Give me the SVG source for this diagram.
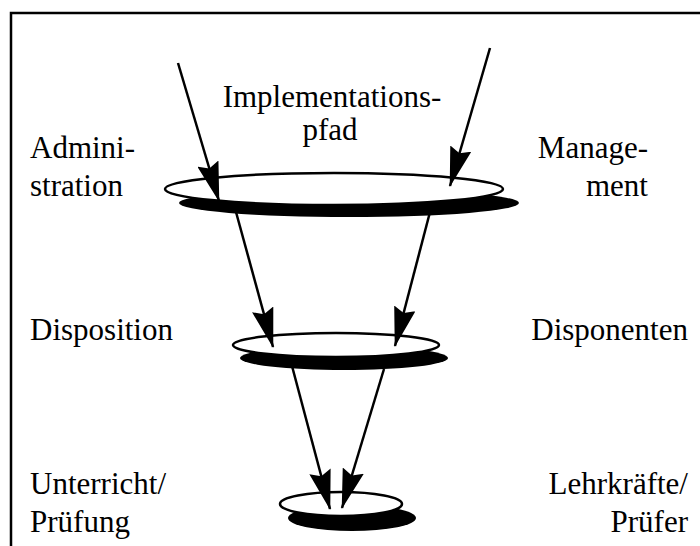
<svg xmlns="http://www.w3.org/2000/svg" width="700" height="546" viewBox="0 0 700 546">
<defs>
<style>
.lbl{font-family:"Liberation Serif","Times New Roman",serif;font-size:31px;fill:#000}
.ring{fill:#fff;stroke:#000;stroke-width:2.5}
.shadow{fill:#000}
.conn{stroke:#000;stroke-width:2.5;fill:none}
</style>
<marker id="ah" viewBox="0 0 40 22" markerWidth="40" markerHeight="22" refX="39" refY="11" orient="auto" markerUnits="userSpaceOnUse">
<path d="M0,0 L40,11 L0,22 L5,11 Z" fill="#000"/>
</marker>
</defs>
<rect width="700" height="546" fill="#fff"/>
<path d="M11,546 L11,13 L700,13" fill="none" stroke="#000" stroke-width="2.5"/>

<g id="level1">
<ellipse class="shadow" cx="349" cy="203" rx="170" ry="14"/>
<ellipse class="ring" cx="334" cy="189" rx="169" ry="16"/>
</g>
<g id="level2">
<ellipse class="shadow" cx="344" cy="358" rx="104" ry="12"/>
<ellipse class="ring" cx="336" cy="345" rx="103" ry="12"/>
</g>
<g id="level3">
<ellipse class="shadow" cx="352" cy="518" rx="64" ry="13"/>
<ellipse class="ring" cx="341" cy="504" rx="61" ry="12"/>
</g>

<g id="connectors">
<line class="conn" x1="178" y1="63" x2="219" y2="201" marker-end="url(#ah)"/>
<line class="conn" x1="490" y1="48" x2="450" y2="186" marker-end="url(#ah)"/>
<line class="conn" x1="236" y1="212" x2="273" y2="347" marker-end="url(#ah)"/>
<line class="conn" x1="430" y1="212" x2="395" y2="346" marker-end="url(#ah)"/>
<line class="conn" x1="292" y1="366" x2="330" y2="509" marker-end="url(#ah)"/>
<line class="conn" x1="384" y1="369" x2="342" y2="508" marker-end="url(#ah)"/>
</g>

<g id="label-top">
<text class="lbl" x="332" y="107" text-anchor="middle">Implementations-</text>
<text class="lbl" x="330" y="140" text-anchor="middle">pfad</text>
</g>
<g id="label-admin">
<text class="lbl" x="30" y="158">Admini-</text>
<text class="lbl" x="30" y="196">stration</text>
</g>
<g id="label-management">
<text class="lbl" x="648" y="158" text-anchor="end">Manage-</text>
<text class="lbl" x="648" y="196" text-anchor="end">ment</text>
</g>
<g id="label-disposition">
<text class="lbl" x="30" y="340">Disposition</text>
</g>
<g id="label-disponenten">
<text class="lbl" x="688" y="340" text-anchor="end">Disponenten</text>
</g>
<g id="label-unterricht">
<text class="lbl" x="30" y="494">Unterricht/</text>
<text class="lbl" x="30" y="532">Prüfung</text>
</g>
<g id="label-lehrkraefte">
<text class="lbl" x="688" y="494" text-anchor="end">Lehrkräfte/</text>
<text class="lbl" x="688" y="532" text-anchor="end">Prüfer</text>
</g>
</svg>
